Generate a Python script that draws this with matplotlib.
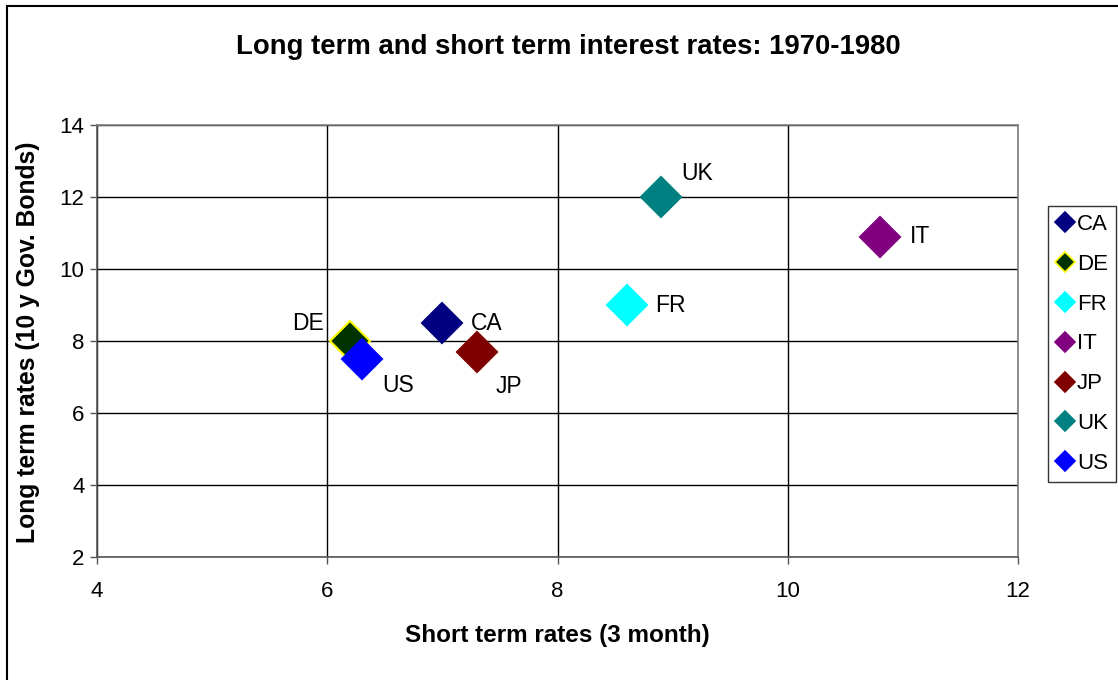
import matplotlib.pyplot as plt
from matplotlib.patches import Rectangle

countries = ["CA", "DE", "FR", "IT", "JP", "UK", "US"]
short_rates = [7.0, 6.2, 8.6, 10.8, 7.3, 8.9, 6.3]
long_rates = [8.5, 8.0, 9.0, 10.9, 7.7, 12.0, 7.5]
colors = ["#000080", "#003300", "#00FFFF", "#800080", "#800000", "#008080", "#0000FF"]
edges = ["#000080", "#FFFF00", "#00FFFF", "#800080", "#800000", "#008080", "#0000FF"]
# label offsets in pixels from each marker
offsets = [(29, 0), (-26, 17), (29, 0), (30, 0), (19, -35), (20, 23), (20, -27)]

plt.rcParams["font.family"] = ["Liberation Sans", "DejaVu Sans"]

fig = plt.figure(figsize=(11.18, 6.8), dpi=100)
ax = fig.add_axes([97 / 1118, 1 - 557 / 680, 921 / 1118, 432 / 680])

for name, x, y, c, e, off in zip(countries, short_rates, long_rates, colors, edges, offsets):
    ax.plot(x, y, marker="D", markersize=20, color=c, markeredgecolor=e,
            markeredgewidth=1.5, linestyle="none", zorder=3)
    ax.annotate(name, (x, y), xytext=off, textcoords="offset pixels",
                ha="right" if off[0] < 0 else "left", va="center", fontsize=16.5)

ax.set_xlim(4, 12)
ax.set_ylim(2, 14)
ax.set_xticks([4, 6, 8, 10, 12])
ax.set_yticks([2, 4, 6, 8, 10, 12, 14])
ax.grid(True, color="black", linewidth=1)
ax.set_axisbelow(True)
ax.tick_params(labelsize=16, direction="out", length=5, width=1, color="#555555")
ax.tick_params(axis="x", pad=12)
ax.tick_params(axis="y", pad=4)

for side in ["left", "bottom"]:
    ax.spines[side].set_color("#555555")
for side in ["top", "right"]:
    ax.spines[side].set_color("#808080")
for s in ax.spines.values():
    s.set_linewidth(1.2)

ax.set_xlabel("Short term rates (3 month)", fontsize=17.5, fontweight="bold")
ax.xaxis.set_label_coords(0.5, (557 - 624) / 432)
ax.set_ylabel("Long term rates (10 y Gov. Bonds)", fontsize=17.8, fontweight="bold")
ax.yaxis.set_label_coords((40 - 97) / 921, 0.498)
fig.text(568 / 1118, 1 - 47 / 680, "Long term and short term interest rates: 1970-1980",
         ha="center", va="center", fontsize=19.8, fontweight="bold")

handles = [plt.Line2D([], [], marker="D", markersize=10, color=c, markeredgecolor=e,
                      markeredgewidth=1.2, linestyle="none") for c, e in zip(colors, edges)]
leg = fig.legend(handles, countries, loc="upper left",
                 bbox_to_anchor=(1048 / 1118, 1 - 206 / 680), borderaxespad=0,
                 fontsize=16, frameon=True, fancybox=False, edgecolor="black",
                 handlelength=0.8, handletextpad=0.15, labelspacing=0.85,
                 borderpad=0.35)
leg.get_frame().set_linewidth(1)

fig.patches.append(Rectangle((7 / 1118, -0.1), 1.2, 1.1 - 6 / 680, transform=fig.transFigure,
                             fill=False, edgecolor="black", linewidth=1.5))

fig.savefig("out.png", dpi=100)
